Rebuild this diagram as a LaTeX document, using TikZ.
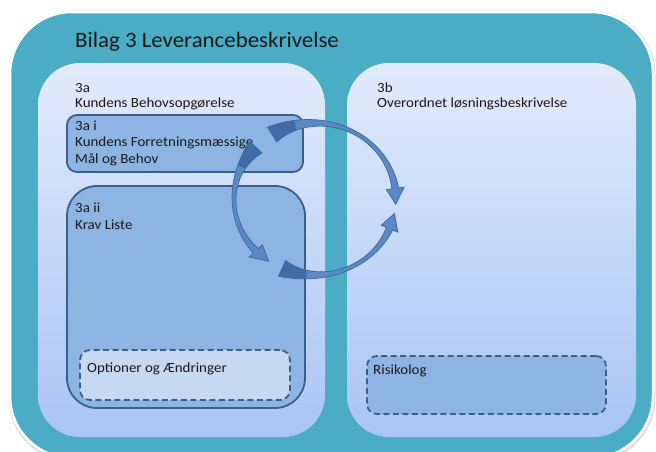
\documentclass[tikz,border=0pt]{standalone}
\usepackage{fontspec}
\setmainfont{Carlito}
\newfontfamily\bodyfont[FakeStretch=1.07]{Carlito}
\newfontfamily\titlefont[FakeStretch=1.04]{Carlito}
\definecolor{teal}{HTML}{4BACC6}
\definecolor{paneltop}{HTML}{E2EBFB}
\definecolor{panelbot}{HTML}{A8C5F5}
\definecolor{boxfill}{HTML}{8EB4E3}
\definecolor{boxline}{HTML}{3A5F8E}
\definecolor{optfill}{HTML}{C6D9F1}
\definecolor{arrfill}{HTML}{5A8AC6}
\definecolor{arrline}{HTML}{3C659C}
\definecolor{arrtail}{HTML}{3F6CA6}
\tikzset{
  rbox/.style={anchor=north west, inner sep=0pt, outer sep=0pt},
  panelbox/.style={rbox, rounded corners=42pt, top color=paneltop, bottom color=panelbot},
  subbox/.style={rbox, fill=boxfill, draw=boxline, line width=1.8pt},
  dashbox/.style={rbox, draw=boxline, line width=1.8pt, dash pattern=on 6pt off 3.5pt, rounded corners=10pt},
  lbl/.style={anchor=base west, inner sep=0pt, font=\bodyfont\fontsize{14}{16}\selectfont, text=black!90},
}
\newcommand\cx{315}
\newcommand\cy{199}
\newcommand\rx{81}
\newcommand\ry{76}
% half width of the band at angle \x for an arrow from #1 to #2
\newcommand\hw[2]{(7.5*(1-(\x-#1)/(#2-#1))^4+1.2+2.2*((\x-#1)/(#2-#1))^3)}
% #1 start angle, #2 head-base angle, #3 direction sign (+1 ccw, -1 cw)
\newcommand\cycarrow[3]{%
  \fill[arrfill, draw=arrline, line width=0.7pt]
    plot[domain=#1:#2, samples=60] ({\cx+(\rx+\hw{#1}{#2})*cos(\x)}, {\cy-(\ry+\hw{#1}{#2})*sin(\x)})
    -- ({\cx+(\rx+9)*cos(#2)}, {\cy-(\ry+9)*sin(#2)})
    -- ({\cx+\rx*cos(#2+#3*12)}, {\cy-\ry*sin(#2+#3*12)})
    -- ({\cx+(\rx-9)*cos(#2)}, {\cy-(\ry-9)*sin(#2)})
    -- plot[domain=#2:#1, samples=60] ({\cx+(\rx-\hw{#1}{#2})*cos(\x)}, {\cy-(\ry-\hw{#1}{#2})*sin(\x)})
    -- cycle;
  \fill[arrtail]
    plot[domain=#1:#1+#3*18, samples=16] ({\cx+(\rx+\hw{#1}{#2}-0.4)*cos(\x)}, {\cy-(\ry+\hw{#1}{#2}-0.4)*sin(\x)})
    -- plot[domain=#1+#3*18:#1, samples=16] ({\cx+(\rx-\hw{#1}{#2}+0.4)*cos(\x)}, {\cy-(\ry-\hw{#1}{#2}+0.4)*sin(\x)})
    -- cycle;
}
\begin{document}
\begin{tikzpicture}[x=1pt, y=-1pt]
\useasboundingbox (0,0) rectangle (656,451);
\fill[white] (0,0) rectangle (656,451);
% outer frame with soft shadow
\fill[black!12, rounded corners=64pt] (8.5,10.5) rectangle (655.5,462);
\node[rbox, fill=teal, draw=white, line width=2.5pt, rounded corners=62pt, minimum width=643pt, minimum height=446pt] (outer) at (10,12) {};
\node[anchor=base west, inner sep=0pt, font=\titlefont\fontsize{22}{26}\selectfont, text=black!90] (title) at (75,47) {Bilag 3 Leverancebeskrivelse};
% panels
\node[panelbox, minimum width=287pt, minimum height=374pt] (pa) at (38,63) {};
\node[panelbox, minimum width=289pt, minimum height=374pt] (pb) at (347,63) {};
\node[lbl] (pa1) at (75,92) {3a};
\node[lbl] (pa2) at (75,107) {Kundens Behovsopgørelse};
\node[lbl] (pb1) at (377,92) {3b};
\node[lbl] (pb2) at (377,107) {Overordnet løsningsbeskrivelse};
% 3a i
\node[subbox, rounded corners=10pt, minimum width=236pt, minimum height=57pt] (ai) at (67,115) {};
\node[lbl] (ai1) at (75,130) {3a i};
\node[lbl] (ai2) at (75,146) {Kundens Forretningsmæssige};
\node[lbl] (ai3) at (75,163) {Mål og Behov};
% 3a ii
\node[subbox, rounded corners=30pt, minimum width=238pt, minimum height=222pt] (aii) at (67,186) {};
\node[lbl] (aii1) at (75,212) {3a ii};
\node[lbl] (aii2) at (75,229) {Krav Liste};
% dashed boxes
\node[dashbox, fill=optfill, minimum width=210pt, minimum height=50pt] (opt) at (80,350) {};
\node[lbl] (optt) at (87,372) {Optioner og Ændringer};
\node[dashbox, fill=boxfill, minimum width=239pt, minimum height=58pt] (risk) at (367,356) {};
\node[lbl] (riskt) at (373,374) {Risikolog};
% circular arrows
\cycarrow{122}{8}{-1}
\cycarrow{137}{223}{1}
\cycarrow{246}{337}{1}
\end{tikzpicture}
\end{document}
